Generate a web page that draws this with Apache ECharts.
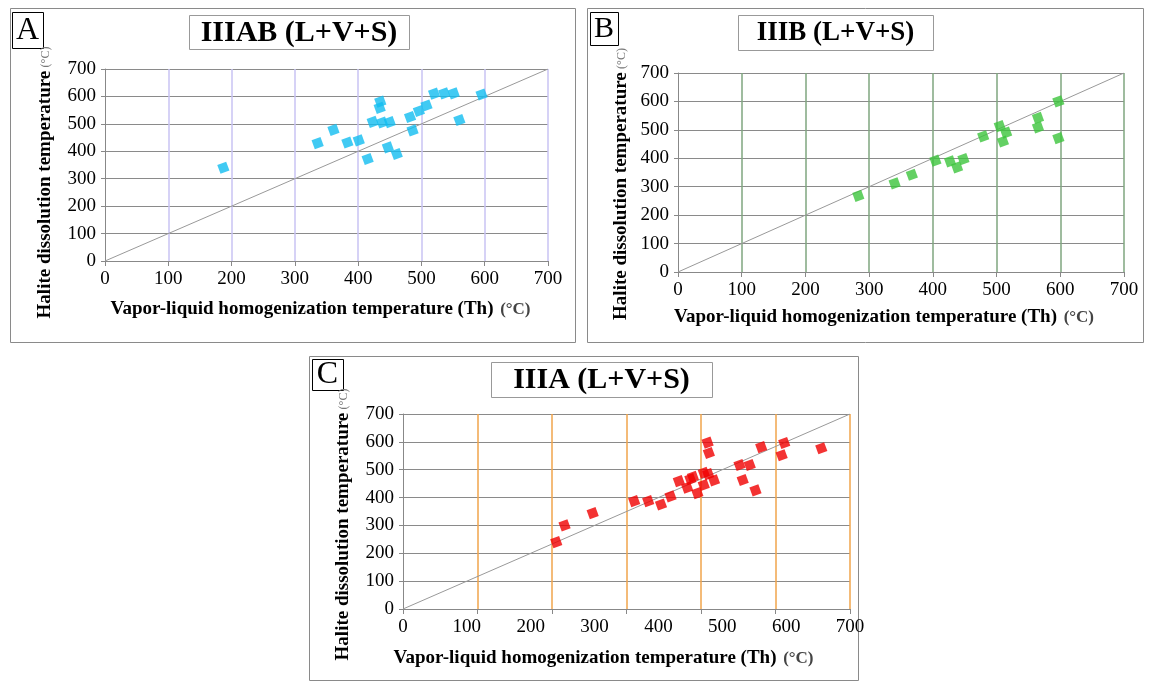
<!DOCTYPE html>
<html>
<head>
<meta charset="utf-8">
<script src="https://cdn.jsdelivr.net/npm/echarts@6/dist/echarts.min.js"></script>
<style>
  html, body { margin: 0; padding: 0; background: #fff; }
  #main { width: 1151px; height: 681px; }
</style>
</head>
<body>
<div id="main"></div>
<script>
  // A: IIIAB (L+V+S) - Th / halite dissolution temperature (°C)
  var thA = [187, 336, 361, 383, 401, 415, 423, 435, 434, 438, 450, 447, 461, 482, 486, 496, 508, 520, 536, 551, 560, 595];
  var hdA = [340, 430, 478, 432, 440, 372, 507, 581, 558, 505, 506, 414, 390, 525, 476, 547, 567, 610, 611, 611, 514, 607];

  // B: IIIB (L+V+S)
  var thB = [283, 340, 367, 404, 427, 438, 448, 479, 505, 515, 510, 565, 565, 597, 597];
  var hdB = [268, 312, 342, 392, 389, 368, 397, 477, 513, 490, 459, 542, 509, 600, 471];

  // C: IIIA (L+V+S)
  var thC = [240, 253, 297, 362, 384, 404, 419, 432, 445, 450, 454, 461, 471, 471, 478, 477, 479, 487, 527, 532, 543, 552, 561, 593, 597, 655];
  var hdC = [240, 300, 344, 387, 387, 375, 404, 459, 436, 466, 474, 416, 489, 445, 484, 597, 560, 462, 517, 463, 517, 426, 581, 552, 596, 577];

  var panelTitles = ['IIIAB (L+V+S)', 'IIIB (L+V+S)', 'IIIA (L+V+S)'];
  var panelLetters = ['A', 'B', 'C'];
  var xTitle = 'Vapor-liquid homogenization temperature (Th)';
  var yTitle = 'Halite dissolution temperature';
  var unit = '(°C)';

  // 1:1 reference line
  var diagonal = [0, 700];

  var serif = '"Liberation Serif", "Times New Roman", serif';

  function zip(xs, ys) {
    var out = [];
    for (var i = 0; i < xs.length; i++) out.push([xs[i], ys[i]]);
    return out;
  }

  // 边框
  function box(x, y, w, h, color) {
    return {
      type: 'rect', silent: true,
      shape: { x: x + 0.5, y: y + 0.5, width: w, height: h },
      style: { fill: 'none', stroke: color, lineWidth: 1 }
    };
  }

  function label(x, y, text, size, weight) {
    return {
      type: 'text', silent: true, x: x, y: y,
      style: {
        text: text, fontFamily: serif, fontSize: size, fontWeight: weight,
        fill: '#000', align: 'center', verticalAlign: 'middle'
      }
    };
  }

  function xAxisOf(grid, vColor, gap, shift) {
    return {
      gridIndex: grid, type: 'value', min: 0, max: 700, interval: 100, position: 'bottom',
      axisLine: { show: true, lineStyle: { color: '#888' } },
      axisTick: { show: true, length: 5, lineStyle: { color: '#888' } },
      axisLabel: { color: '#000', fontFamily: serif, fontSize: 19, margin: 9 },
      splitLine: vColor ? { show: true, showMinLine: false, lineStyle: { color: vColor, width: 1.5 } } : { show: false },
      name: '{t|' + xTitle + '}  {u|' + unit + '}',
      nameLocation: 'middle', nameGap: gap,
      nameTextStyle: {
        padding: [0, shift, 0, 0],
        rich: {
          t: { fontFamily: serif, fontSize: 19, fontWeight: 'bold', color: '#000' },
          u: { fontFamily: serif, fontSize: 17, fontWeight: 'bold', color: '#444' }
        }
      }
    };
  }

  function yAxisOf(grid, gap, shift) {
    return {
      gridIndex: grid, type: 'value', min: 0, max: 700, interval: 100,
      axisLine: { show: true, lineStyle: { color: '#888' } },
      axisTick: { show: true, length: 4, lineStyle: { color: '#888' } },
      axisLabel: { color: '#000', fontFamily: serif, fontSize: 19, margin: 9 },
      splitLine: { show: true, lineStyle: { color: '#8a8a8a', width: 1 } },
      name: '{t|' + yTitle + '} {u|' + unit + '}',
      nameLocation: 'middle', nameRotate: 90, nameGap: gap,
      nameTextStyle: {
        padding: [0, shift, 0, 0],
        rich: {
          t: { fontFamily: serif, fontSize: 19, fontWeight: 'bold', color: '#000' },
          u: { fontFamily: serif, fontSize: 12, color: '#777' }
        }
      }
    };
  }

  function points(xIdx, yIdx, data, color) {
    return {
      type: 'scatter', xAxisIndex: xIdx, yAxisIndex: yIdx, data: data,
      symbol: 'rect', symbolSize: 9.5, symbolRotate: 20,
      itemStyle: { color: color }, z: 3
    };
  }

  function line11(xIdx, yIdx) {
    return {
      type: 'line', xAxisIndex: xIdx, yAxisIndex: yIdx,
      data: [[diagonal[0], diagonal[0]], [diagonal[1], diagonal[1]]],
      symbol: 'none', silent: true, z: 2,
      lineStyle: { color: '#999', width: 1 }
    };
  }

  var myChart = echarts.init(document.getElementById('main'));

  // C 图的竖网格线是 6 等分，跟刻度不对齐，单独用一根隐藏的轴画
  var gridC = {
    gridIndex: 2, type: 'value', min: 0, max: 6, interval: 1, position: 'bottom',
    axisLine: { show: false },
    axisTick: { show: true, length: 5, lineStyle: { color: '#888' } },
    axisLabel: { show: false },
    splitLine: { show: true, showMinLine: false, lineStyle: { color: '#f0a54b', width: 1.5 } }
  };
  var xC = xAxisOf(2, null, 40, 46);
  xC.axisTick = { show: false };

  var option = {
    backgroundColor: '#fff',
    animation: false,
    grid: [
      { left: 105, top: 69, width: 443, height: 192, outerBoundsMode: 'none' },
      { left: 678, top: 73, width: 446, height: 199, outerBoundsMode: 'none' },
      { left: 403, top: 414, width: 447, height: 195, outerBoundsMode: 'none' }
    ],
    xAxis: [
      xAxisOf(0, '#c9c3f3', 39, 12),
      xAxisOf(1, '#7fa67f', 36, 34),
      xC,
      gridC
    ],
    yAxis: [
      yAxisOf(0, 50, 35),
      yAxisOf(1, 47, 23),
      yAxisOf(2, 50, 26)
    ],
    series: [
      line11(0, 0), points(0, 0, zip(thA, hdA), '#12bdf0'),
      line11(1, 1), points(1, 1, zip(thB, hdB), '#3cc43c'),
      line11(2, 2), points(2, 2, zip(thC, hdC), '#f00000')
    ],
    graphic: [
      box(10, 8, 565, 334, '#8a8a8a'),
      box(587, 8, 556, 334, '#8a8a8a'),
      box(309, 356, 549, 324, '#8a8a8a'),
      box(12, 12, 31, 36, '#000'),
      box(590, 12, 28, 33, '#000'),
      box(312, 359, 31, 31, '#000'),
      label(27.5, 31, panelLetters[0], 32, 'normal'),
      label(604, 29, panelLetters[1], 30, 'normal'),
      label(327.5, 375, panelLetters[2], 32, 'normal'),
      box(189, 15, 220, 34, '#999'),
      box(738, 15, 195, 35, '#999'),
      box(491, 362, 221, 35, '#999'),
      label(299, 33, panelTitles[0], 30, 'bold'),
      label(835.5, 33, panelTitles[1], 27, 'bold'),
      label(601.5, 380, panelTitles[2], 30, 'bold')
    ]
  };

  myChart.setOption(option);
</script>
</body>
</html>
